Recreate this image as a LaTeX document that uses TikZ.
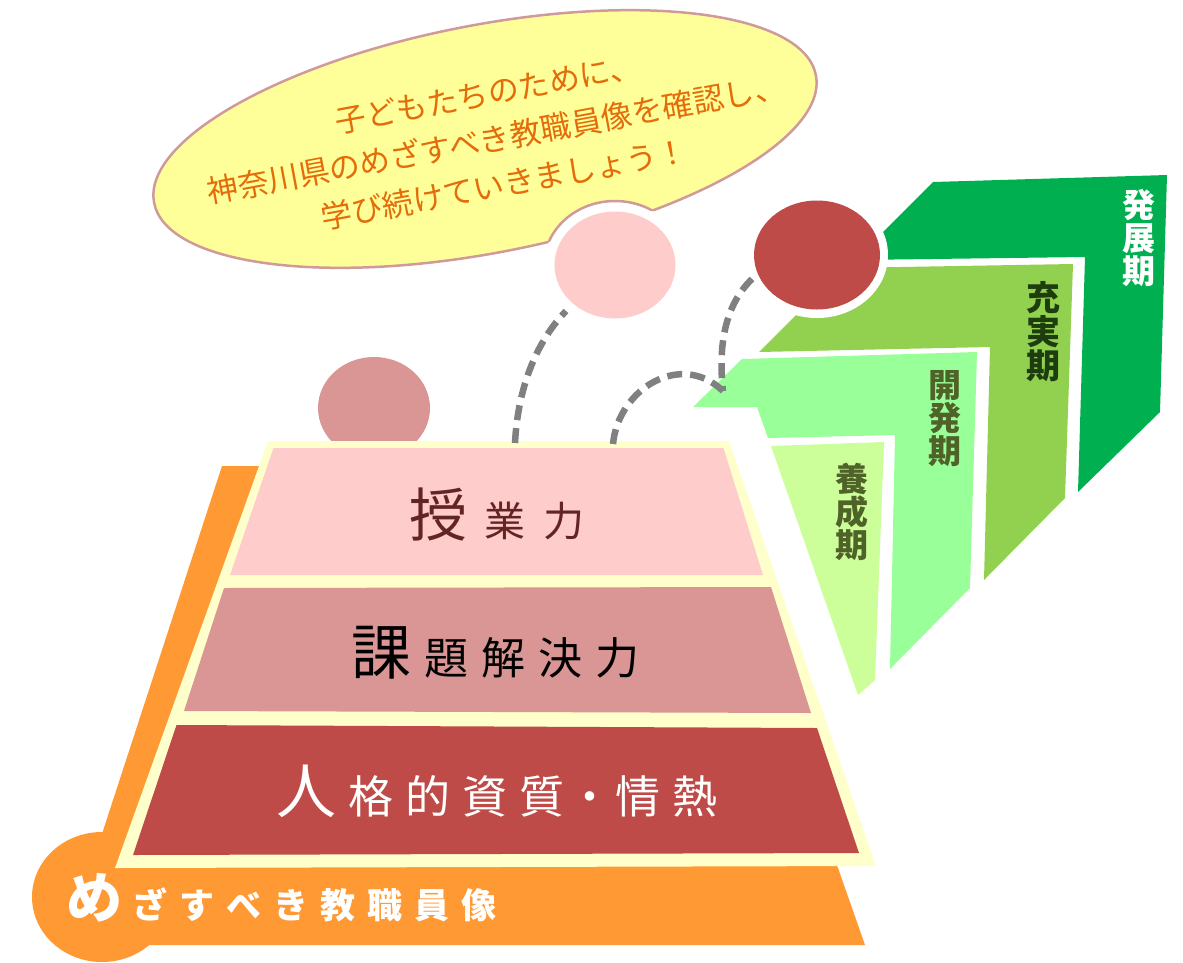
\documentclass[tikz,border=0pt]{standalone}
\usepackage{fontspec}
\newfontfamily\jp{Noto Sans CJK JP}
\usetikzlibrary{shapes.geometric}

\definecolor{bubfill}{HTML}{FFFF99}
\definecolor{bubline}{HTML}{D09A9A}
\definecolor{msgtext}{HTML}{E46C0A}
\definecolor{orangeback}{HTML}{FF9933}
\definecolor{pyrborder}{HTML}{FFFFCC}
\definecolor{layerA}{HTML}{FFCCCC}
\definecolor{layerB}{HTML}{D99694}
\definecolor{layerC}{HTML}{BE4B48}
\definecolor{darktext}{HTML}{632523}
\definecolor{stageA}{HTML}{CCFF99}
\definecolor{stageB}{HTML}{99FF99}
\definecolor{stageC}{HTML}{92D050}
\definecolor{stageD}{HTML}{00B050}
\definecolor{olive}{HTML}{4F6228}
\definecolor{deepgreen}{HTML}{1E3D0E}
\definecolor{dashgray}{HTML}{808080}

\newcommand{\fs}[1]{\fontsize{#1}{#1}\selectfont}
\newcommand{\gap}[1]{\hspace{#1pt}}

\tikzset{
  dot/.style={ellipse, inner sep=0pt},
  stage/.style={font=\jp\bfseries\fs{33}, align=center, inner sep=0pt},
  layertext/.style={font=\jp, anchor=base west, inner sep=0pt},
  dashline/.style={dashgray, line width=6.5pt, dash pattern=on 15pt off 8pt},
}

\begin{document}
\begin{tikzpicture}[x=1pt,y=-1pt]
\useasboundingbox (0,0) rectangle (1183,962);
\fill[white] (0,0) rectangle (1183,962);

% orange base behind the pyramid
\fill[orangeback] (222,466) -- (650,466) -- (838,868) -- (865,945) -- (102,945) -- (100,840) -- cycle;
\fill[orangeback] (102,897) ellipse [x radius=70, y radius=65];

% speech bubble
\fill[bubfill, rotate around={10.9:(485,139)}] (485,139) ellipse [x radius=337, y radius=114];
\fill[white] (615,265) ellipse [x radius=71, y radius=64];
\begin{scope}[even odd rule]
  \clip (-10,-10) rectangle (1200,1000) (615,265) ellipse [x radius=71, y radius=64];
  \draw[bubline, line width=2.5pt, rotate around={10.9:(485,139)}] (485,139) ellipse [x radius=337, y radius=114];
\end{scope}
\begin{scope}[rotate around={10.9:(485,139)}]
  \clip (485,139) ellipse [x radius=337, y radius=114];
  \draw[bubline, line width=2.5pt, rotate around={-10.9:(485,139)}] (615,265) ellipse [x radius=71, y radius=64];
\end{scope}
\node[font=\jp\fontsize{31}{46}\selectfont, text=msgtext, align=center, rotate=10.5] (msg) at (496,139)
  {子どもたちのために、\\神奈川県のめざすべき教職員像を確認し、\\学び続けていきましょう！};

% circles
\node[dot, fill=layerA, minimum width=121, minimum height=107] (pinkc) at (615,265) {};
\node[dot, fill=layerB, minimum width=112, minimum height=102] (mauvec) at (374,408) {};

% pyramid
\fill[pyrborder] (268,441) -- (729,441) -- (876,866) -- (115,868) -- cycle;
\fill[layerA] (273.5,448) -- (723.5,448) -- (763,575) -- (230,575) -- cycle;
\fill[layerB] (224,588) -- (771,587) -- (811,713) -- (184,711) -- cycle;
\fill[layerC] (176.5,725) -- (817,728) -- (859,853) -- (133,855) -- cycle;

\node[layertext, text=darktext] (teach) at (409,536)
  {\fs{58}授\gap{17}\fs{41}業\gap{18}力};
\node[layertext, text=black] (solve) at (351,674)
  {\fs{60}課\gap{13}\fs{44}題\gap{13}解\gap{13}決\gap{13}力};
\node[layertext, text=white] (heart) at (276,813)
  {\fs{60}人\gap{12}\fs{45}格\gap{12}的\gap{12}資\gap{12}質\gap{3}・\gap{3}情\gap{12}熱};
\node[layertext, text=white, font=\jp\bfseries] (goal) at (66,918)
  {\fs{56}め\gap{10}\fs{35}ざ\gap{12}す\gap{12}べ\gap{12}き\gap{12}教\gap{12}職\gap{12}員\gap{12}像};

% career stages
\fill[stageA] (771,446) -- (884,442) -- (875,680) -- (858,695) -- cycle;
\fill[stageB] (693,407) -- (742,359) -- (977,352) -- (970,588) -- (890,669) -- (895,435) -- (768,438) -- (757,407) -- cycle;
\fill[stageC] (759,352) -- (843,268) -- (1073,264) -- (1065,498) -- (984,580) -- (990,347) -- cycle;
\fill[stageD] (855,260) -- (933,182) -- (1167,175) -- (1160,412) -- (1078,492) -- (1085,257) -- cycle;

\node[stage, text=olive] (yosei) at (852,512) {養\\成\\期};
\node[stage, text=olive] (kaihatsu) at (945,419) {開\\発\\期};
\node[stage, text=deepgreen, font=\jp\bfseries\fs{34}] (jujitsu) at (1043.5,332) {充\\実\\期};
\node[stage, text=white] (hatten) at (1139,238.5) {発\\展\\期};

\fill[white] (817,255) ellipse [x radius=71, y radius=63];
\node[dot, fill=layerC, minimum width=126, minimum height=109] (redc) at (817,255) {};

% dashed links
\coordinate (topA) at (515,443);
\coordinate (topB) at (613,444);
\coordinate (pinkend) at (566,311);
\coordinate (redend) at (752,279);
\coordinate (meet) at (723,391);
\draw[dashline] (topA) .. controls (518,385) and (538,340) .. (pinkend);
\draw[dashline] (topB) .. controls (618,390) and (680,350) .. (meet);
\draw[dashline] (redend) .. controls (725,305) and (718,345) .. (meet);
\end{tikzpicture}
\end{document}
